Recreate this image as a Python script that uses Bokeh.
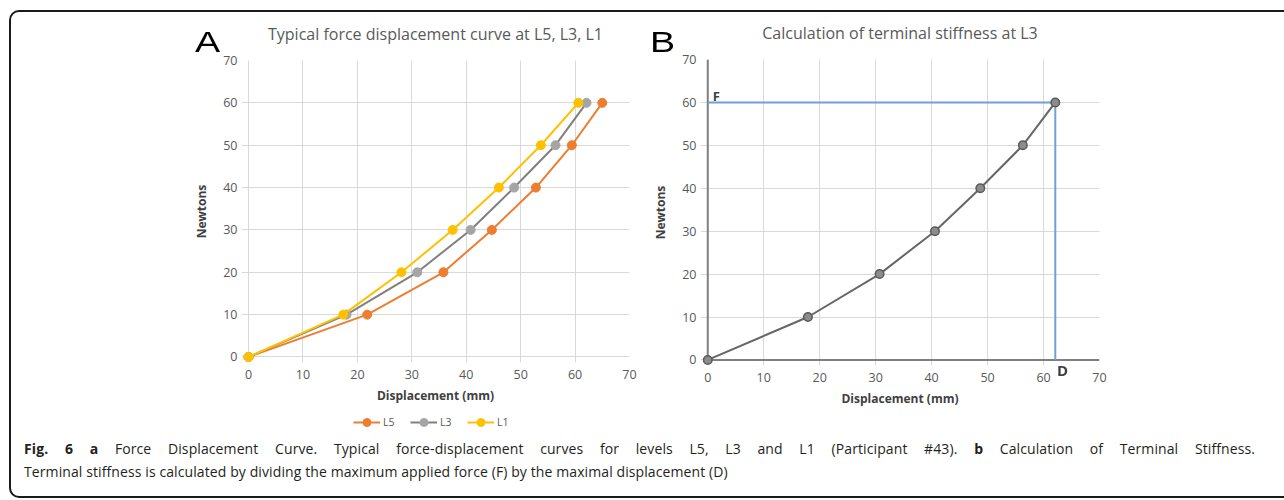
from bokeh.plotting import figure
from bokeh.models import Label, Legend, LegendItem, Div, Range1d
from bokeh.layouts import column, row
from bokeh.embed import file_html
from bokeh.resources import INLINE

# ---- data ----
force = [0, 10, 20, 30, 40, 50, 60]
disp_L5 = [0, 21.8, 35.8, 44.7, 52.8, 59.4, 65.0]
disp_L3 = [0, 18.0, 31.0, 40.8, 48.8, 56.4, 62.1]
disp_L1 = [0, 17.4, 28.1, 37.5, 46.0, 53.7, 60.6]
disp_B = [0, 17.9, 30.7, 40.6, 48.7, 56.3, 62.1]
series_names = ["L5", "L3", "L1"]
ticks = [0, 10, 20, 30, 40, 50, 60, 70]
axis_max = 70

title_A = "Typical force displacement curve at L5, L3, L1"
title_B = "Calculation of terminal stiffness at L3"
x_label = "Displacement (mm)"
y_label = "Newtons"

FONT = "Open Sans"
TICK_C = "#595959"
LAB_C = "#404040"
GRID_C = "#d9d9d9"


def style(p, title, standoff):
    p.outline_line_color = None
    p.title.text = title
    p.title.align = "center"
    p.title.text_font = FONT
    p.title.text_font_style = "normal"
    p.title.text_font_size = "16px"
    p.title.text_color = TICK_C
    p.title.standoff = standoff
    for ax in (p.xaxis[0], p.yaxis[0]):
        ax.axis_line_color = None
        ax.major_tick_line_color = None
        ax.minor_tick_line_color = None
        ax.major_tick_out = 0
        ax.major_tick_in = 0
        ax.minor_tick_out = 0
        ax.minor_tick_in = 0
        ax.major_label_text_font = FONT
        ax.major_label_text_font_size = "12.5px"
        ax.major_label_text_color = TICK_C
        ax.axis_label_text_font = FONT
        ax.axis_label_text_font_style = "bold"
        ax.axis_label_text_color = LAB_C
        ax.axis_label_text_font_size = "12px"
    p.xaxis[0].axis_label = x_label
    p.xaxis[0].major_label_standoff = 7
    p.xaxis[0].axis_label_standoff = 5
    p.yaxis[0].axis_label = y_label
    p.yaxis[0].major_label_standoff = 4
    p.yaxis[0].axis_label_standoff = 10
    p.xgrid.grid_line_color = GRID_C
    p.ygrid.grid_line_color = GRID_C
    p.xaxis.ticker = ticks
    p.yaxis.ticker = ticks


cols = {"L5": ("#ed7d31", "#ed7d31"), "L3": ("#808080", "#a5a5a5"), "L1": ("#ffc000", "#ffc000")}
series_x = [disp_L5, disp_L3, disp_L1]

# ---- panel A ----
pA = figure(width=640, height=406, x_range=Range1d(-1.3, axis_max), y_range=Range1d(-1.3, axis_max),
            output_backend="svg", toolbar_location=None,
            min_border_left=241, min_border_right=11, min_border_top=60, min_border_bottom=43)
style(pA, title_A, 32)

for name, xs in zip(series_names, series_x):
    lc, mc = cols[name]
    pA.line(xs, force, line_color=lc, line_width=2)
    pA.scatter(xs, force, size=9, fill_color=mc, line_color=mc)

# ---- legend strip under panel A (its ranges keep the series out of view) ----
pL = figure(width=640, height=26, x_range=Range1d(1000, 1001), y_range=Range1d(1000, 1001),
            x_axis_type=None, y_axis_type=None, output_backend="svg", toolbar_location=None,
            min_border_left=241, min_border_right=11, min_border_top=0, min_border_bottom=0)
pL.outline_line_color = None
items = []
for name, xs in zip(series_names, series_x):
    lc, mc = cols[name]
    r1 = pL.line(xs, force, line_color=lc, line_width=2)
    r2 = pL.scatter(xs, force, size=8, fill_color=mc, line_color=mc)
    items.append(LegendItem(label=name, renderers=[r1, r2]))
leg = Legend(items=items, orientation="horizontal", location="bottom",
             label_text_font=FONT, label_text_font_size="10.5px", label_text_color=TICK_C,
             glyph_width=27, glyph_height=20, spacing=7, padding=0, margin=0,
             label_standoff=3, border_line_color=None, background_fill_alpha=0)
pL.add_layout(leg)

# ---- panel B ----
pB = figure(width=636, height=432, x_range=Range1d(-1.3, axis_max), y_range=Range1d(-1.3, axis_max),
            output_backend="svg", toolbar_location=None,
            min_border_left=60, min_border_right=177, min_border_top=59, min_border_bottom=67)
style(pB, title_B, 31)

pB.segment(x0=[0, 0], y0=[0, 0], x1=[axis_max, 0], y1=[0, axis_max], line_color="#7f7f7f", line_width=2)

max_f = force[-1]
max_d = disp_B[-1]
pB.line([0, max_d, max_d], [max_f, max_f, 0], line_color="#6fa0d8", line_width=2)
pB.line(disp_B, force, line_color="#666666", line_width=2)
pB.scatter(disp_B, force, size=8.5, fill_color="#8c8c8c", line_color="#5a5a5a", line_width=1.5)

pB.add_layout(Label(x=0.9, y=61.4, text="F", text_font=FONT, text_font_style="bold",
                    text_font_size="13px", text_color=LAB_C, text_baseline="alphabetic"))

cap_html = (
    '<div style="font-family:\'Open Sans\'; font-size:14px; letter-spacing:0.1px; color:#231f20; '
    'line-height:23px; padding-left:19px; width:1250px;">'
    '<div style="text-align:justify; text-align-last:justify;">'
    '<b>Fig. 6 a</b> Force Displacement Curve. Typical force-displacement curves for levels L5, L3 and L1 '
    '(Participant #43). <b>b</b> Calculation of Terminal Stiffness.</div>'
    '<div>Terminal stiffness is calculated by dividing the maximum applied force (F) by the maximal '
    'displacement (D)</div></div>'
)
cap = Div(text=cap_html, width=1270, height=52)

layout = column(row(column(pA, pL), pB), cap)

html = file_html(layout, INLINE)
overlay = (
    '<div style="position:fixed; left:9px; top:10px; width:1290px; height:484px; '
    'border:2px solid #1a1a1a; border-radius:10px; pointer-events:none; z-index:10;"></div>'
    '<div style="position:fixed; left:195px; top:28px; font-family:\'Liberation Sans\'; font-size:29px; '
    'line-height:29px; color:#000; transform:scaleX(1.3); transform-origin:left top; z-index:11;">A</div>'
    '<div style="position:fixed; left:650px; top:28px; font-family:\'Liberation Sans\'; font-size:29px; '
    'line-height:29px; color:#000; transform:scaleX(1.3); transform-origin:left top; z-index:11;">B</div>'
    '<div style="position:fixed; left:1057px; top:363px; font-family:\'Open Sans\'; font-size:15px; '
    'font-weight:bold; line-height:15px; color:#404040; z-index:11;">D</div>'
)
html = html.replace("</body>", overlay + "</body>", 1)
open("out.html", "w").write(html)
